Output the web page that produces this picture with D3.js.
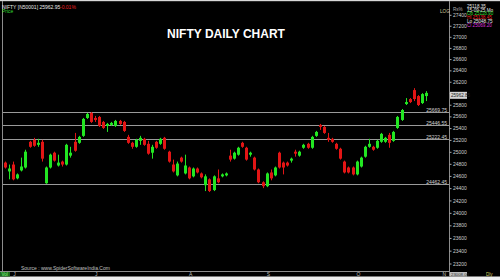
<!DOCTYPE html>
<html>
<head>
<meta charset="utf-8">
<script src="https://cdn.jsdelivr.net/npm/d3@7"></script>
<style>
  body { margin: 0; background: #000; }
  svg { display: block; }
</style>
</head>
<body>
<script>
// daily candles (oldest first)
const openVals = [24820,24674,24788,24560,24690,24739,25168,25201,25117,25168,
  24480,24739,24985,24772,24837,24788,24936,25168,25151,25268,
  25573,25658,25573,25590,25505,25437,25454,25437,25522,25505,
  25251,25151,25084,25184,25218,25134,24985,25168,25134,25235,
  25002,24788,24609,24903,24641,24739,24593,24722,24641,24448,
  24544,24368,24560,24593,24609,24936,24886,24952,25151,25068,
  24952,24903,24706,24496,24432,24657,24609,24985,24820,24820,
  24853,25002,24936,25068,25134,25068,25268,25454,25420,25235,
  25218,25134,25051,24837,24739,24739,24625,24755,24919,25084,
  25084,25068,25168,25168,25285,25184,25403,25539,25812,25898,
  26054,25950,25829,25950];
const highVals = [24837,24788,24837,24641,24903,25035,25184,25235,25218,25201,
  24755,24969,25002,24952,24853,25134,25084,25318,25268,25573,
  25658,25675,25607,25607,25522,25488,25505,25539,25539,25522,
  25285,25168,25218,25268,25235,25184,25117,25184,25235,25251,
  25018,24870,24837,24919,24952,24755,24739,24739,24657,24625,
  24560,24609,24706,24641,24657,25035,25002,25084,25168,25084,
  25002,24919,24722,24512,24657,24706,24755,25002,24837,24837,
  24903,25035,25018,25134,25151,25268,25352,25471,25437,25318,
  25235,25151,25068,24853,24755,24755,24853,24919,25101,25218,
  25101,25201,25318,25251,25318,25352,25607,25726,25915,25915,
  26088,25967,26001,26036];
const lowVals = [24722,24544,24528,24544,24674,24722,25068,25084,25084,24837,
  24470,24722,24837,24755,24755,24772,24903,25002,25134,25251,
  25556,25488,25505,25420,25386,25335,25437,25420,25454,25335,
  25134,25051,25068,25117,25101,24952,24886,25051,25117,25035,
  24820,24657,24593,24820,24625,24544,24577,24641,24560,24352,
  24336,24352,24480,24577,24593,24837,24870,24936,25068,24853,
  24919,24690,24480,24400,24416,24528,24593,24722,24625,24755,
  24820,24919,24919,25051,25051,25051,25251,25369,25302,25168,
  25151,25035,24870,24641,24641,24609,24609,24739,24903,25068,
  25018,25051,25151,25151,25068,25168,25386,25522,25795,25829,
  25863,25778,25812,25863];
const closeVals = [24739,24722,24544,24625,24755,25002,25084,25101,25151,24886,
  24739,24952,24853,24820,24788,25117,24985,25018,25251,25556,
  25641,25505,25539,25437,25403,25471,25488,25522,25471,25352,
  25151,25084,25201,25235,25117,24969,25084,25068,25218,25051,
  24837,24674,24804,24837,24772,24560,24722,24657,24577,24593,
  24352,24593,24496,24625,24641,24870,24985,25068,25084,24870,
  24985,24706,24496,24432,24641,24560,24739,24739,24739,24772,
  24886,24969,25002,25117,25068,25251,25335,25420,25318,25201,
  25168,25051,24886,24657,24657,24625,24837,24903,25084,25134,
  25035,25184,25302,25235,25151,25335,25590,25709,25846,25846,
  25898,25795,25984,26005];

// support / resistance levels drawn across the chart
const levelVals = [25669.75, 25446.55, 25222.45, 24462.45];

// price axis ticks
const yTicks = [23200,23400,23600,23800,24000,24200,24400,24600,24800,25000,
  25200,25400,25600,25800,26000,26200,26400,26600,26800,27000,27200,27400];

// month labels and the candle where each month starts
const monthLabels = ["J","J","A","S","O","N"];
const monthIdx = [2, 22, 45, 64, 86, 107];

const lastPrice = 25962.85;
const infoLines = ["25118.35","15-09-25 Mo","Op 25118.90","Hi 25138.45","Lo 25048.75","Cl 25069.20"];
const infoColors = ["#e8e8e8","#e8e8e8","#33dd33","#ee2222","#e8e8e8","#dd33dd"];

let width = 500,
    height = 280;

let plot = { left: 3, right: 449, top: 1, bottom: 271 };

const green = '#22e622',
      red = '#e21515',
      grid = '#8c8c8c',
      font = 'Liberation Sans, Arial, sans-serif';

let svg = d3.select('body')
  .append('svg')
    .attr('width', width)
    .attr('height', height)
    .style('background', '#000');

let data = openVals.map((o, i) => ({
  i: i, o: o, h: highVals[i], l: lowVals[i], c: closeVals[i]
}));

let xScale = d3.scaleLinear()
  .domain([-0.5, 108.6])
  .range([plot.left, plot.right]);

let yScale = d3.scaleLog()
  .domain([23200, 27400])
  .range([263.5, 14.8]);

// white strips top and bottom of the screenshot
svg.append('rect').attr('x', 0).attr('y', 0).attr('width', width).attr('height', 1.2).attr('fill', '#d8d8d8');
svg.append('rect').attr('x', 0).attr('y', 276.5).attr('width', width).attr('height', 3.5).attr('fill', '#f0f0f0');

// frame
svg.append('line').attr('x1', 2.5).attr('x2', 2.5).attr('y1', 1).attr('y2', plot.bottom).attr('stroke', grid);
svg.append('line').attr('x1', 449.5).attr('x2', 449.5).attr('y1', 1).attr('y2', 276.5).attr('stroke', grid);
svg.append('line').attr('x1', 0).attr('x2', 449.5).attr('y1', 271.5).attr('y2', 271.5).attr('stroke', grid);

// level lines
let levels = svg.append('g');
levels.selectAll('line')
  .data(levelVals)
  .enter()
  .append('line')
    .attr('x1', plot.left)
    .attr('x2', plot.right)
    .attr('y1', d => Math.round(yScale(d)) + 0.5)
    .attr('y2', d => Math.round(yScale(d)) + 0.5)
    .attr('stroke', '#9a9a9a');
levels.selectAll('text')
  .data(levelVals)
  .enter()
  .append('text')
    .attr('x', 447)
    .attr('y', d => Math.round(yScale(d)) - 0.5)
    .attr('text-anchor', 'end')
    .style('font-family', font)
    .style('font-size', '5px')
    .style('fill', '#d0d0d0')
    .text(d => d.toFixed(2));

// candles
let candles = svg.append('g')
  .selectAll('g')
  .data(data)
  .enter()
  .append('g');

candles.append('line')
  .attr('x1', d => Math.round(xScale(d.i)) + 0.5)
  .attr('x2', d => Math.round(xScale(d.i)) + 0.5)
  .attr('y1', d => yScale(d.h))
  .attr('y2', d => yScale(d.l))
  .attr('stroke', d => d.c >= d.o ? green : red);

candles.append('rect')
  .attr('x', d => Math.round(xScale(d.i)) - 1)
  .attr('y', d => yScale(Math.max(d.o, d.c)))
  .attr('width', 3)
  .attr('height', d => Math.max(1, yScale(Math.min(d.o, d.c)) - yScale(Math.max(d.o, d.c))))
  .attr('fill', d => d.c >= d.o ? green : red);

// price axis on the right
let yAxis = svg.append('g')
  .attr('transform', 'translate(449.5,0)')
  .call(d3.axisRight(yScale).tickValues(yTicks).tickSize(2).tickPadding(1.5).tickFormat(d3.format('d')));
yAxis.select('.domain').remove();
yAxis.selectAll('line').attr('stroke', '#aaa');
yAxis.selectAll('text')
  .style('font-family', font)
  .style('font-size', '5px')
  .style('fill', '#cfcfcf');
// the last price box sits over the nearest tick label, as in the original
yAxis.selectAll('.tick')
  .filter(d => Math.abs(yScale(d) - yScale(lastPrice)) < 5)
  .select('text')
  .remove();

// last price box
svg.append('rect')
  .attr('x', 450).attr('y', yScale(lastPrice) - 3.5)
  .attr('width', 17).attr('height', 7)
  .attr('fill', '#d4d4d4');
svg.append('text')
  .attr('x', 451).attr('y', yScale(lastPrice) + 1.8)
  .style('font-family', font).style('font-size', '4.6px').style('fill', '#222')
  .text(lastPrice.toFixed(2));

// month labels
svg.append('g')
  .selectAll('text')
  .data(monthLabels)
  .enter()
  .append('text')
    .attr('x', (d, k) => xScale(monthIdx[k]))
    .attr('y', 275.5)
    .style('font-family', font)
    .style('font-size', '5px')
    .style('fill', '#bdbdbd')
    .text(d => d);

// header texts
svg.append('text').attr('x', 2).attr('y', 8.5)
  .style('font-family', font).style('font-size', '5px').style('fill', '#e8e8e8')
  .text('NIFTY [N50001] 25962.95');
svg.append('text').attr('x', 60).attr('y', 8.5)
  .style('font-family', font).style('font-size', '5px').style('fill', '#ee2222')
  .text('-0.01%');
svg.append('text').attr('x', 2).attr('y', 13)
  .style('font-family', font).style('font-size', '5px').style('fill', '#33dd33')
  .text('Price');

svg.append('text')
  .attr('x', 226).attr('y', 38)
  .attr('text-anchor', 'middle')
  .style('font-family', font)
  .style('font-weight', 'bold')
  .style('font-size', '12px')
  .style('fill', '#fff')
  .text('NIFTY DAILY CHART');

svg.append('text').attr('x', 440).attr('y', 13)
  .style('font-family', font).style('font-size', '4.6px').style('fill', '#d8c89c')
  .text('LOG');
svg.append('text').attr('x', 453).attr('y', 10.5)
  .style('font-family', font).style('font-size', '4.6px').style('fill', '#aaa')
  .text('Rs%');

svg.append('g')
  .selectAll('text')
  .data(infoLines)
  .enter()
  .append('text')
    .attr('x', 467)
    .attr('y', (d, k) => 7.8 + k * 3.8)
    .style('font-family', font)
    .style('font-size', '4.6px')
    .style('fill', (d, k) => infoColors[k])
    .text(d => d);

svg.append('text').attr('x', 21).attr('y', 269.5)
  .style('font-family', font).style('font-size', '5px').style('fill', '#c0c0c0')
  .text('Source : www.SpiderSoftwareIndia.Com');

// bottom left / right badges
svg.append('rect').attr('x', 0).attr('y', 272).attr('width', 10).attr('height', 4.5).attr('fill', '#1b6b1b');
svg.append('text').attr('x', 1.5).attr('y', 275.8)
  .style('font-family', font).style('font-size', '4.5px').style('fill', '#8f8')
  .text('Vol');
svg.append('rect').attr('x', 450).attr('y', 272).attr('width', 17).attr('height', 4.5).attr('fill', '#bdbdbd');
svg.append('text').attr('x', 451).attr('y', 275.8)
  .style('font-family', font).style('font-size', '4.3px').style('fill', '#333')
  .text('23008.00');
svg.append('text').attr('x', 486).attr('y', 275.8)
  .style('font-family', font).style('font-size', '4.5px').style('fill', '#d8d060')
  .text('Dly');
</script>
</body>
</html>
